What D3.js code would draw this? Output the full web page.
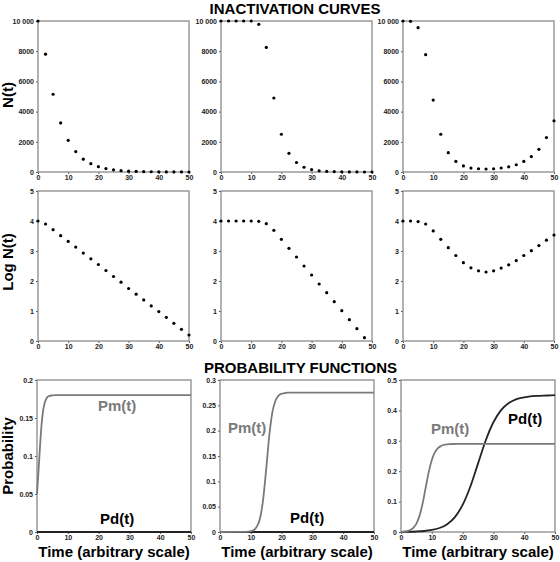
<!DOCTYPE html>
<html><head><meta charset="utf-8">
<script src="https://cdn.jsdelivr.net/npm/d3@7"></script>
<style>
body{margin:0;background:#fff}
svg{display:block}
text{font-family:Arial,"Liberation Sans",Helvetica,sans-serif;font-weight:bold}
</style>
</head><body>
<svg id="c" width="560" height="562"></svg>
<script>
// ---- data ----
const sampleTimes = [0,2.5,5,7.5,10,12.5,15,17.5,20,22.5,25,27.5,30,32.5,35,37.5,40,42.5,45,47.5,50];
const nExponential = [10000,7800,5150,3250,2100,1350,850,550,355,224,141,91,56,36,23,15,10,6,4,2.5,1.6];
const nShoulder = [10000,10000,10000,10000,10000,9780,8250,4900,2500,1240,630,316,158,79,40,20,10,5,2.5,1.3,0.6];
const nTail = [10000,9980,9560,7770,4760,2500,1280,700,400,260,215,200,215,265,340,480,700,1020,1500,2280,3390];
const logExponential = [4.0,3.9,3.71,3.51,3.32,3.13,2.93,2.74,2.55,2.35,2.15,1.96,1.75,1.56,1.37,1.17,0.98,0.79,0.59,0.39,0.2];
const logShoulder = [4,4,4,4,4,3.99,3.91,3.69,3.39,3.09,2.8,2.5,2.2,1.9,1.61,1.31,1.01,0.71,0.41,0.11,-0.2];
const logTail = [4.0,4.0,3.98,3.9,3.67,3.39,3.11,2.85,2.61,2.44,2.34,2.3,2.34,2.43,2.54,2.68,2.85,3.01,3.18,3.36,3.53];

const timeTicks = [0,10,20,30,40,50];
const nTicks = [0,2000,4000,6000,8000,10000];
const nTickLabels = ["0","2000","4000","6000","8000","10 000"];
const logTicks = [0,1,2,3,4,5];
const prob1Ticks = [0,0.05,0.1,0.15,0.2];
const prob2Ticks = [0,0.05,0.1,0.15,0.2,0.25,0.3];
const prob3Ticks = [0,0.1,0.2,0.3,0.4,0.5];

const pm1Times = [0,0.5,1,1.5,2,2.5,3,3.5,4,5,6,8,50];
const pm1Values = [0.05,0.081,0.114,0.142,0.16,0.17,0.175,0.178,0.179,0.1797,0.18,0.18,0.18];
const pd1Times = [0,50];
const pd1Values = [0,0];
const pm2Times = [0,8,9,10,11,12,13,14,15,16,17,18,19,20,21,22,25,50];
const pm2Values = [0,0.0002,0.0006,0.0015,0.004,0.011,0.027,0.064,0.124,0.19,0.236,0.259,0.269,0.273,0.274,0.275,0.275,0.275];
const pd2Times = [0,50];
const pd2Values = [0,0];
const pm3Times = [0,1,2,3,4,5,6,7,8,9,10,11,12,13,14,15,16,18,20,50];
const pm3Values = [0.0007,0.0015,0.0032,0.0067,0.0138,0.0276,0.053,0.093,0.145,0.197,0.237,0.262,0.276,0.283,0.287,0.2885,0.289,0.29,0.29,0.29];
const pd3Times = [0,2.5,5,7.5,10,12.5,15,17.5,20,22.5,25,27.5,30,32.5,35,37.5,40,42.5,45,47.5,50];
const pd3Values = [0.0004,0.0008,0.0017,0.0033,0.0067,0.0132,0.0258,0.0491,0.089,0.149,0.225,0.301,0.361,0.401,0.424,0.437,0.443,0.447,0.448,0.449,0.45];

// ---- drawing ----
const svg = d3.select("#c");
const FRAME = "#8a8a8a";
const PM = "#7a7a7a", PD = "#232323";

function panel(box, yDomain, yTicks, yFmt) {
  const x = d3.scaleLinear().domain([0,50]).range([box.x, box.x + box.w]);
  const y = d3.scaleLinear().domain(yDomain).range([box.y + box.h, box.y]);
  const g = svg.append("g");
  const ya = g.append("g").attr("transform", `translate(${box.x},0)`)
    .call(d3.axisLeft(y).tickValues(yTicks).tickSize(2).tickPadding(2).tickFormat(yFmt));
  const xa = g.append("g").attr("transform", `translate(0,${box.y + box.h})`)
    .call(d3.axisBottom(x).tickValues(timeTicks).tickSize(2).tickPadding(1).tickFormat(d3.format("d")));
  [ya, xa].forEach(a => {
    a.select(".domain").remove();
    a.selectAll("line").attr("stroke", "#555");
    a.selectAll("text").attr("font-size", 7).attr("fill", "#222")
      .style("font-family", "Arial,'Liberation Sans',sans-serif");
  });
  g.append("rect").attr("x", box.x).attr("y", box.y).attr("width", box.w).attr("height", box.h)
    .attr("fill", "none").attr("stroke", FRAME).attr("stroke-width", 1.3);
  return {x, y, g};
}

function dots(p, times, values, domain) {
  const pts = times.map((t, i) => [t, values[i]]).filter(d => d[1] >= domain[0] && d[1] <= domain[1]);
  p.g.append("g").selectAll("circle").data(pts).join("circle")
    .attr("cx", d => p.x(d[0])).attr("cy", d => p.y(d[1])).attr("r", 1.6).attr("fill", "#000");
}

function curve(p, times, values, color) {
  const line = d3.line().x(d => p.x(d[0])).y(d => p.y(d[1])).curve(d3.curveMonotoneX);
  p.g.append("path").datum(times.map((t, i) => [t, values[i]]))
    .attr("d", line).attr("fill", "none").attr("stroke", color).attr("stroke-width", 1.8);
}

const topCols = [38, 221, 403];
const botCols = [37, 220, 401];
const nFmt = d => nTickLabels[nTicks.indexOf(d)];
const intFmt = d3.format("d");
const probFmt = d => String(d);

const nSeries = [nExponential, nShoulder, nTail];
const logSeries = [logExponential, logShoulder, logTail];
topCols.forEach((cx, i) => {
  const p = panel({x: cx, y: 21, w: 151, h: 151}, [0, 10000], nTicks, nFmt);
  dots(p, sampleTimes, nSeries[i], [0, 10000]);
  const q = panel({x: cx, y: 191, w: 151, h: 150}, [0, 5], logTicks, intFmt);
  dots(q, sampleTimes, logSeries[i], [0, 5]);
});

const probCfg = [
  {dom: [0,0.2], ticks: prob1Ticks, pm: [pm1Times, pm1Values], pd: [pd1Times, pd1Values],
   pmLab: [98, 411], pdLab: [100, 524]},
  {dom: [0,0.3], ticks: prob2Ticks, pm: [pm2Times, pm2Values], pd: [pd2Times, pd2Values],
   pmLab: [228, 433], pdLab: [290, 523]},
  {dom: [0,0.5], ticks: prob3Ticks, pm: [pm3Times, pm3Values], pd: [pd3Times, pd3Values],
   pmLab: [431, 434], pdLab: [508, 424]}
];
botCols.forEach((cx, i) => {
  const c = probCfg[i];
  const p = panel({x: cx, y: 380, w: 154, h: 152}, c.dom, c.ticks, probFmt);
  curve(p, c.pd[0], c.pd[1], PD);
  curve(p, c.pm[0], c.pm[1], PM);
  svg.append("text").attr("x", c.pmLab[0]).attr("y", c.pmLab[1]).attr("font-size", 15)
    .attr("fill", PM).text("Pm(t)");
  svg.append("text").attr("x", c.pdLab[0]).attr("y", c.pdLab[1]).attr("font-size", 15)
    .attr("fill", "#000").text("Pd(t)");
  svg.append("text").attr("x", cx + 77).attr("y", 557).attr("text-anchor", "middle")
    .attr("font-size", 15).attr("fill", "#000").text("Time (arbitrary scale)");
});

// titles
svg.append("text").attr("x", 295).attr("y", 13.5).attr("text-anchor", "middle")
  .attr("font-size", 15).attr("fill", "#000").text("INACTIVATION CURVES");
svg.append("text").attr("x", 300.5).attr("y", 373).attr("text-anchor", "middle")
  .attr("font-size", 15).attr("fill", "#000").text("PROBABILITY FUNCTIONS");

// y-axis titles
[["N(t)", 95], ["Log N(t)", 262], ["Probability", 456]].forEach(([t, cy]) => {
  svg.append("text").attr("transform", `translate(13,${cy}) rotate(-90)`)
    .attr("text-anchor", "middle").attr("font-size", 15).attr("fill", "#000").text(t);
});
</script>
</body></html>
